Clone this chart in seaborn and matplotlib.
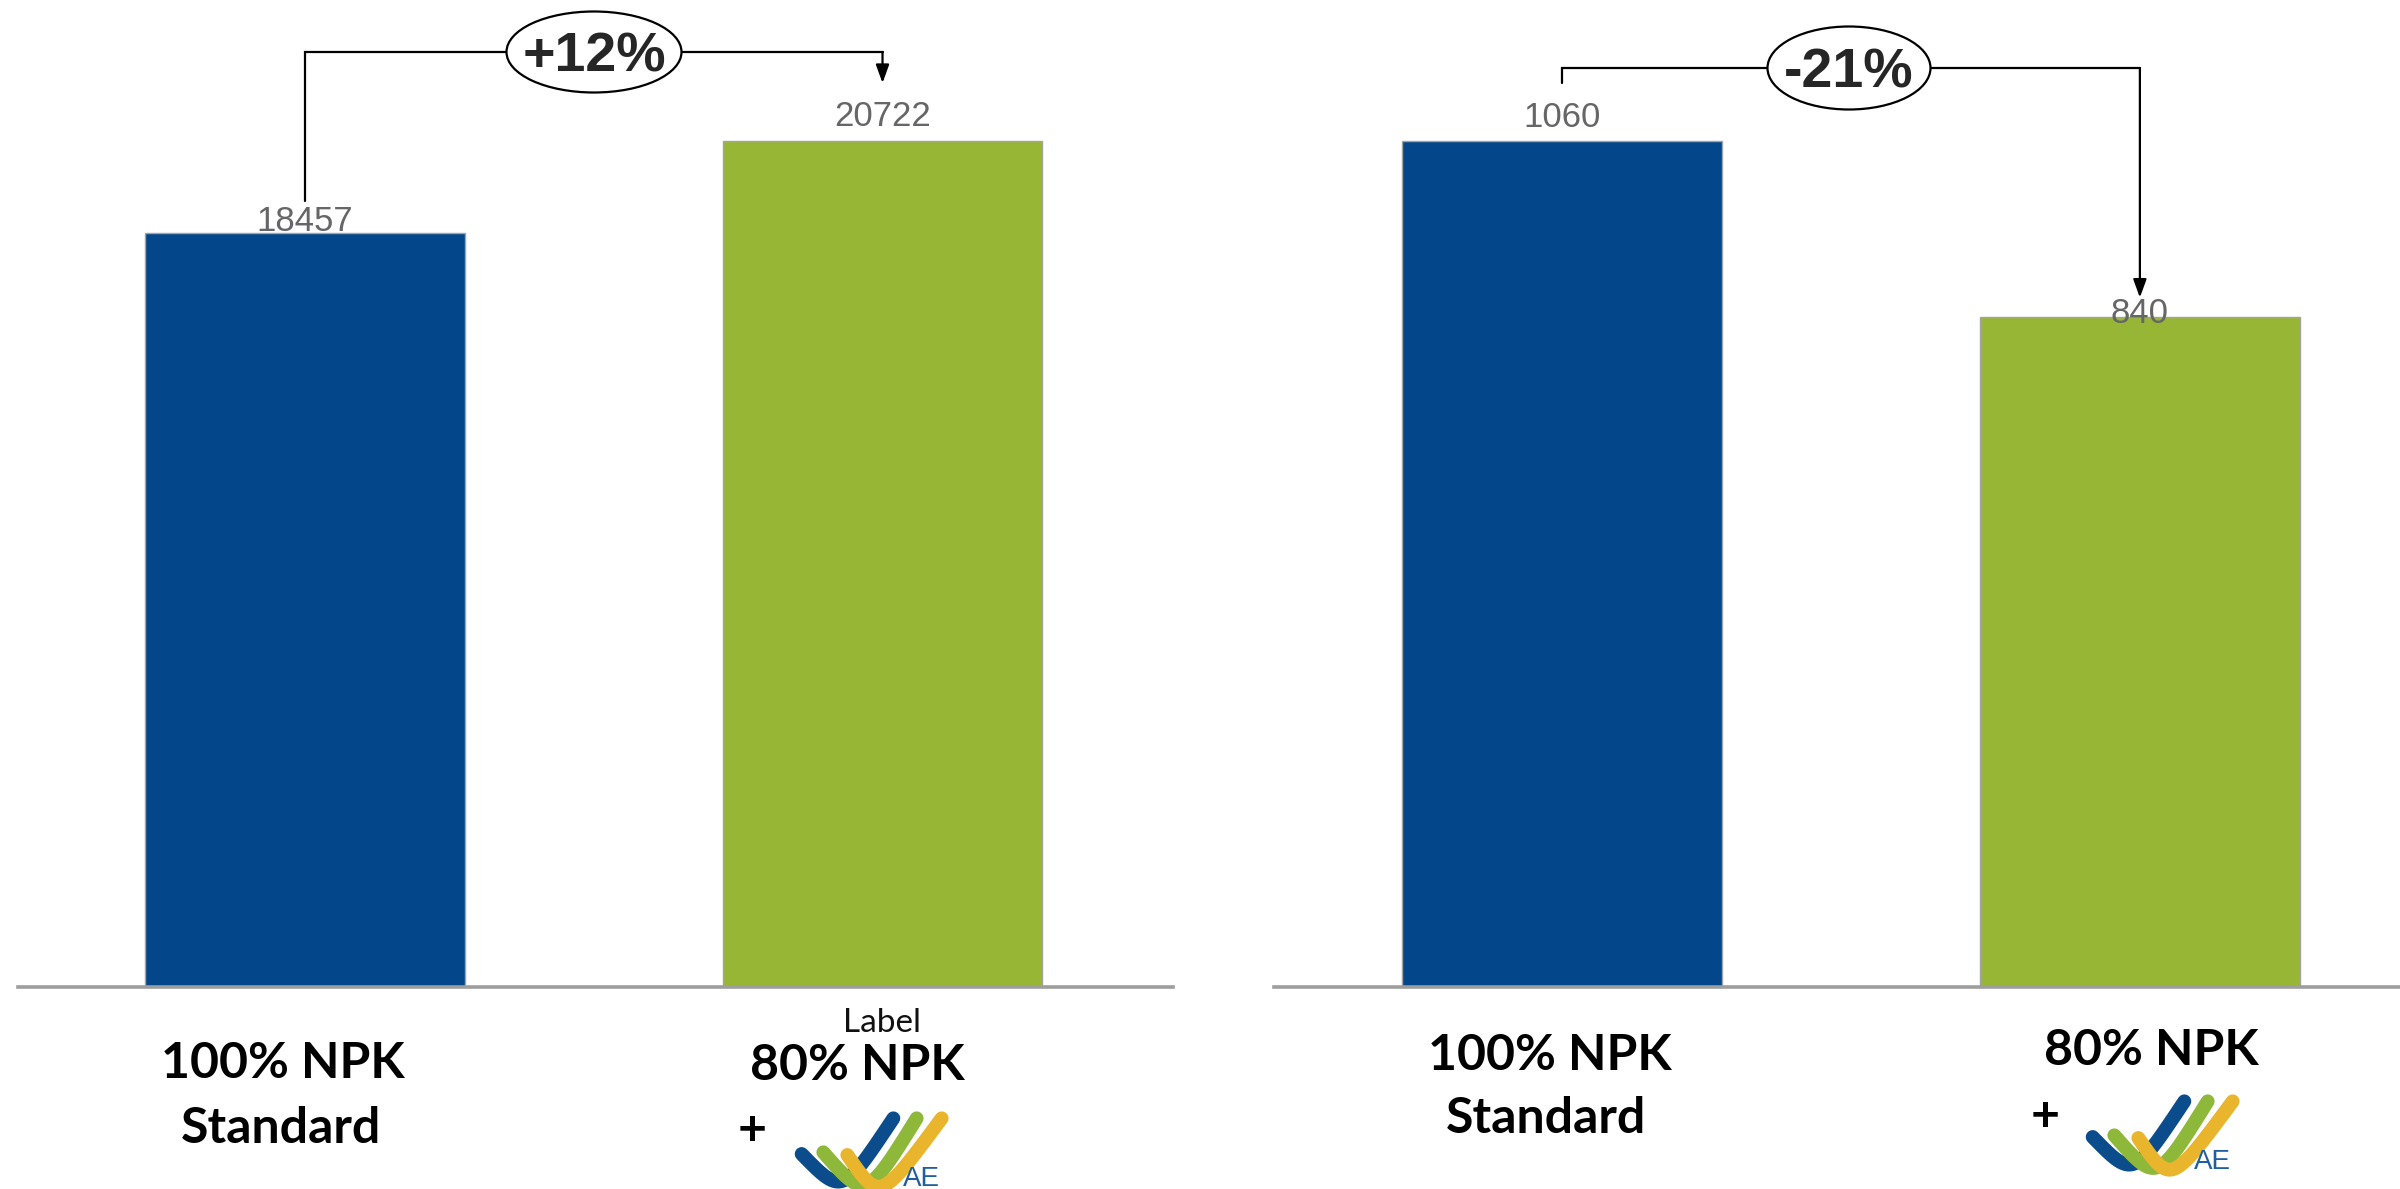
import numpy as np
import pandas as pd
import matplotlib
matplotlib.use("Agg")
import matplotlib.pyplot as plt
import seaborn as sns
from matplotlib.patches import Ellipse

# ---- data ----
categories = ["100% NPK Standard", "80% NPK + AE"]
left_values = [18457, 20722]
right_values = [1060, 840]
left_change = "+12%"
right_change = "-21%"

# ---- style ----
bar_colors = ["#03478A", "#97B636"]
W, H, DPI = 2400, 1189, 100
BASE = 987          # pixel row of the baseline
TOP_OF_MAX = 141    # pixel row of the tallest bar top

sns.set_theme(style="white")
plt.rcParams["font.family"] = ["Liberation Sans", "DejaVu Sans"]

fig = plt.figure(figsize=(W / DPI, H / DPI), dpi=DPI)
fig.patch.set_facecolor("white")


def fx(px):
    return px / W


def fy(py):
    return 1 - py / H


def to_axes(ax, x_img, y_img):
    """image pixel (origin top-left) -> axes fraction"""
    return ax.transAxes.inverted().transform((x_img, H - y_img))


def img_of(ax, x, y):
    """data -> image pixel (origin top-left)"""
    dx, dy = ax.transData.transform((x, y))
    return dx, H - dy


def draw_panel(rect, values, xlim, label_offsets):
    ax = fig.add_axes(rect)
    df = pd.DataFrame({"cat": categories, "val": values})
    sns.barplot(data=df, x="cat", y="val", hue="cat", palette=bar_colors,
                saturation=1, width=0.554, edgecolor="#a3a3a3", linewidth=1.0,
                legend=False, ax=ax)
    ax.set_xlim(*xlim)
    ax.set_ylim(0, max(values) * BASE / (BASE - TOP_OF_MAX))
    for s in ("top", "left", "right"):
        ax.spines[s].set_visible(False)
    ax.spines["bottom"].set_color("#9e9e9e")
    ax.spines["bottom"].set_linewidth(2.6)
    ax.set_xticks([])
    ax.set_yticks([])
    ax.set_xlabel("")
    ax.set_ylabel("")
    ax.set_facecolor("none")
    for i, v in enumerate(values):
        ax.annotate(f"{v}", xy=(i, v), xytext=(0, label_offsets[i]),
                    textcoords="offset pixels", ha="center", va="baseline",
                    fontsize=25, color="#666666")
    return ax


def draw_bracket(ax, values, level_y, start_gap, end_gap, ell_center, ell_size, text, text_base):
    x0, y0 = img_of(ax, 0, values[0])
    x1, y1 = img_of(ax, 1, values[1])
    start = to_axes(ax, x0, y0 - start_gap)
    c0 = to_axes(ax, x0, level_y)
    c1 = to_axes(ax, x1, level_y)
    tip = to_axes(ax, x1, y1 - end_gap)
    ax.plot([start[0], c0[0], c1[0]], [start[1], c0[1], c1[1]],
            color="black", lw=1.6, transform=ax.transAxes, clip_on=False,
            solid_joinstyle="miter")
    ax.annotate("", xy=tip, xycoords="axes fraction", xytext=c1,
                textcoords="axes fraction", annotation_clip=False,
                arrowprops=dict(arrowstyle="-|>,head_length=0.55,head_width=0.2",
                                color="black", lw=1.6, mutation_scale=20,
                                shrinkA=0, shrinkB=0))
    cx, cy = ell_center
    ew, eh = ell_size
    e = Ellipse((fx(cx), fy(cy)), ew / W, eh / H, transform=fig.transFigure,
                facecolor="white", edgecolor="black", lw=1.6, zorder=5)
    fig.add_artist(e)
    fig.text(fx(cx), fy(text_base), text, ha="center", va="baseline",
             fontsize=40, fontweight="bold", zorder=6,
             family=["Liberation Sans Narrow", "Liberation Sans", "DejaVu Sans"])


def draw_logo(x0, y0):
    # small product mark: three swooshes (blue, green, yellow) and "AE"
    lax = fig.add_axes([fx(x0), fy(y0 + 119), 200 / W, 119 / H])
    lax.set_xlim(0, 600)
    lax.set_ylim(357, 0)
    lax.axis("off")
    strokes = [
        ((65, 252), (186, 376), (340, 145), "#0B4C8C"),
        ((130, 247), (257, 391), (410, 145), "#8DB83A"),
        ((202, 255), (299, 396), (485, 145), "#E9B52C"),
    ]
    t = np.linspace(0, 1, 120)
    for p0, c, p3, col in strokes:
        p0, c, p3 = map(np.array, (p0, c, p3))
        pts = (((1 - t) ** 3)[:, None] * p0 + (3 * (1 - t) ** 2 * t)[:, None] * c
               + (3 * (1 - t) * t ** 2)[:, None] * c + (t ** 3)[:, None] * p3)
        lax.plot(pts[:, 0], pts[:, 1], color=col, lw=10, solid_capstyle="round",
                 clip_on=False, zorder=2)
    lax.text(425, 347, "AE", color="#1F5FA0", fontsize=20, ha="center",
             va="baseline", zorder=3)


# ---- left panel ----
axL = draw_panel([fx(18), fy(BASE), (1173 - 18) / W, BASE / H], left_values,
                 (-0.497, 1.503), [2, 15])
draw_bracket(axL, left_values, level_y=52, start_gap=32, end_gap=58,
             ell_center=(594, 52), ell_size=(175, 81), text=left_change, text_base=72)

# ---- right panel ----
axR = draw_panel([fx(1274), fy(BASE), 1126 / W, BASE / H], right_values,
                 (-0.498, 1.45), [14, -6])
draw_bracket(axR, right_values, level_y=68, start_gap=58, end_gap=19,
             ell_center=(1849, 68), ell_size=(163, 83), text=right_change, text_base=88)

# ---- category captions ----
cap_font = dict(fontsize=36, fontweight="bold", color="black",
                family=["Lato", "DejaVu Sans"], ha="center", va="baseline")
fig.text(fx(283), fy(1078), "100% NPK", **cap_font)
fig.text(fx(281), fy(1143), "Standard", **cap_font)
fig.text(fx(882), fy(1032), "Label", fontsize=24, fontweight="normal", color="#111111",
         family=["Lato", "DejaVu Sans"], ha="center", va="baseline")
fig.text(fx(857), fy(1080), "80% NPK", **cap_font)
fig.text(fx(752), fy(1145), "+", **cap_font)

fig.text(fx(1550), fy(1070), "100% NPK", **cap_font)
fig.text(fx(1546), fy(1133), "Standard", **cap_font)
fig.text(fx(2151), fy(1065), "80% NPK", **cap_font)
fig.text(fx(2045), fy(1131), "+", **cap_font)

draw_logo(780, 1070)
draw_logo(2071, 1053)

fig.savefig("out.png", dpi=DPI, facecolor="white")
